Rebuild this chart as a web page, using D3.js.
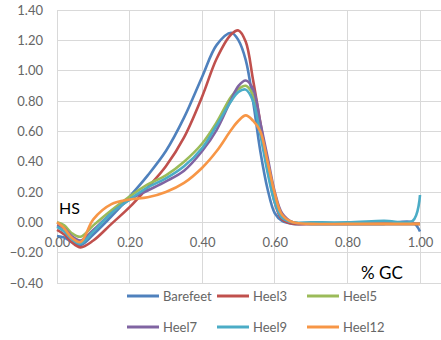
<!DOCTYPE html>
<html>
<head>
<meta charset="utf-8">
<script src="https://cdn.jsdelivr.net/npm/d3@7"></script>
<style>
  body { margin: 0; background: #fff; }
  text { font-family: Lato, "Liberation Sans", sans-serif; }
</style>
</head>
<body>
<svg id="chart" width="441" height="340"></svg>
<script>
// % of gait cycle
const gc = [0, 0.02, 0.04, 0.065, 0.1, 0.15, 0.2, 0.25, 0.3, 0.35, 0.4, 0.44, 0.48, 0.5, 0.52, 0.54, 0.56, 0.58, 0.6, 0.62, 0.65, 0.7, 0.8, 0.9, 0.98, 1.0];

const barefeet = [-0.09, -0.10, -0.13, -0.15, -0.08, 0.04, 0.17, 0.31, 0.47, 0.69, 0.96, 1.17, 1.25, 1.20, 1.07, 0.80, 0.47, 0.22, 0.06, 0.01, -0.01, -0.01, -0.01, -0.01, 0.0, -0.06];
const heel3 = [-0.05, -0.08, -0.13, -0.165, -0.12, -0.01, 0.10, 0.23, 0.37, 0.56, 0.83, 1.08, 1.24, 1.265, 1.19, 0.94, 0.66, 0.38, 0.13, 0.02, -0.01, -0.01, -0.01, -0.01, -0.01, -0.01];
const heel5 = [0.0, -0.02, -0.07, -0.095, -0.02, 0.08, 0.17, 0.25, 0.31, 0.40, 0.52, 0.66, 0.83, 0.88, 0.90, 0.84, 0.63, 0.35, 0.14, 0.04, 0.0, -0.01, -0.01, -0.01, -0.01, -0.01];
const heel7 = [-0.02, -0.04, -0.09, -0.12, -0.05, 0.06, 0.15, 0.21, 0.27, 0.34, 0.47, 0.61, 0.81, 0.90, 0.935, 0.88, 0.66, 0.43, 0.20, 0.06, 0.0, -0.01, -0.01, -0.01, -0.01, -0.01];
const heel9 = [-0.03, -0.06, -0.11, -0.14, -0.06, 0.06, 0.15, 0.23, 0.29, 0.37, 0.49, 0.64, 0.80, 0.86, 0.875, 0.80, 0.58, 0.33, 0.13, 0.03, 0.0, 0.0, 0.0, 0.01, 0.01, 0.18];
const heel12 = [0.0, -0.04, -0.10, -0.13, 0.02, 0.12, 0.15, 0.165, 0.20, 0.26, 0.36, 0.47, 0.61, 0.67, 0.705, 0.67, 0.60, 0.40, 0.19, 0.05, 0.0, -0.01, -0.01, -0.01, -0.01, -0.01];

const names = ['Barefeet', 'Heel3', 'Heel5', 'Heel7', 'Heel9', 'Heel12'];
const colors = ['#4f81bd', '#c0504d', '#9bbb59', '#8064a2', '#4bacc6', '#f79646'];
const xTicks = [0, 0.2, 0.4, 0.6, 0.8, 1.0];
const yTicks = [-0.4, -0.2, 0, 0.2, 0.4, 0.6, 0.8, 1.0, 1.2, 1.4];

const series = [barefeet, heel3, heel5, heel7, heel9, heel12];

const svg = d3.select('#chart');
const x = d3.scaleLinear().domain([0, 1]).range([57, 420]);
const y = d3.scaleLinear().domain([-0.4, 1.4]).range([283, 10]);
const gridColor = '#d9d9d9';

// horizontal grid
svg.append('g').selectAll('line').data(yTicks).enter().append('line')
  .attr('x1', x(0)).attr('x2', 441)
  .attr('y1', d => y(d)).attr('y2', d => y(d))
  .attr('stroke', gridColor).attr('stroke-width', 1).attr('shape-rendering', 'crispEdges');

// vertical grid
svg.append('g').selectAll('line').data(xTicks).enter().append('line')
  .attr('x1', d => x(d)).attr('x2', d => x(d))
  .attr('y1', y(1.4)).attr('y2', y(-0.4))
  .attr('stroke', gridColor).attr('stroke-width', 1).attr('shape-rendering', 'crispEdges');

// y axis labels
const yAxis = d3.axisLeft(y).tickValues(yTicks).tickFormat(d3.format('.2f')).tickSize(0).tickPadding(14);
const gy = svg.append('g').attr('transform', `translate(${x(0)},0)`).call(yAxis);
gy.select('.domain').remove();
gy.selectAll('text').attr('fill', '#666').style('font-size', '13px').style('font-family', 'Lato, "Liberation Sans", sans-serif');

// x axis labels next to the zero line
const xAxis = d3.axisBottom(x).tickValues(xTicks).tickFormat(d3.format('.2f')).tickSize(0).tickPadding(15);
const gx = svg.append('g').attr('transform', `translate(0,${y(0)})`).call(xAxis);
gx.select('.domain').remove();
gx.selectAll('text').attr('fill', '#666').style('font-size', '13px').style('font-family', 'Lato, "Liberation Sans", sans-serif');

// curves
const line = d3.line()
  .x((d, i) => x(gc[i]))
  .y(d => y(d))
  .curve(d3.curveCatmullRom.alpha(0.5));

svg.append('g').selectAll('path').data(series).enter().append('path')
  .attr('d', d => line(d))
  .attr('fill', 'none')
  .attr('stroke', (d, i) => colors[i])
  .attr('stroke-width', 2.6)
  .attr('stroke-linejoin', 'round');

// annotations
svg.append('text').attr('x', 59).attr('y', 214).text('HS')
  .attr('fill', '#000').style('font-size', '16px');
svg.append('text').attr('x', 361).attr('y', 279).text('% GC')
  .attr('fill', '#000').style('font-size', '17px');

// legend
const leg = svg.append('g').selectAll('g').data(names).enter().append('g')
  .attr('transform', (d, i) => `translate(${127 + (i % 3) * 90},${296 + Math.floor(i / 3) * 31})`);
leg.append('line').attr('x1', 0).attr('x2', 32).attr('y1', 0).attr('y2', 0)
  .attr('stroke', (d, i) => colors[i]).attr('stroke-width', 3);
leg.append('text').attr('x', 36).attr('y', 0).attr('dy', '0.35em').text(d => d)
  .attr('fill', '#666').style('font-size', '13px');
</script>
</body>
</html>
